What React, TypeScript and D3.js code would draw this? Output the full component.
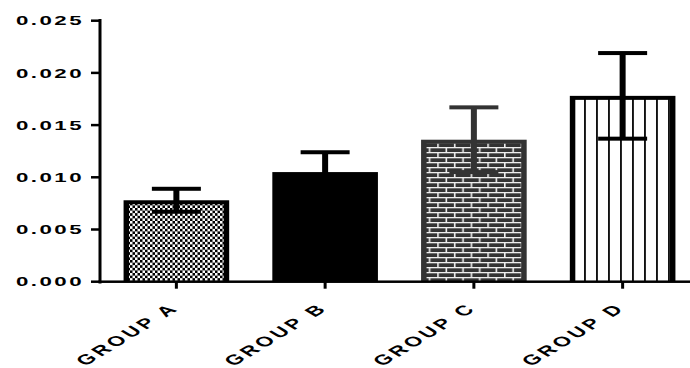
import React from "react";
import * as d3 from "d3";

const categories = ["GROUP A", "GROUP B", "GROUP C", "GROUP D"];
const means = [0.0078, 0.0105, 0.0136, 0.0178];
const errors = [0.0011, 0.0019, 0.0031, 0.0041];
const yTicks = [0, 0.005, 0.01, 0.015, 0.02, 0.025];
const fills = ["url(#checker)", "#000", "url(#brick)", "url(#stripes)"];
const outlines = ["#000", "#000", "#333", "#000"];

const W = 690;
const H = 368;
const SX = 1.65;
const FONT = "'Liberation Sans', Arial, sans-serif";

export default function App() {
  const y = d3.scaleLinear().domain([0, 0.025]).range([281.7, 20.7]);
  const x = d3.scaleBand<string>().domain(categories).range([102, 697]).paddingInner(0.29).paddingOuter(0.145);
  const bw = x.bandwidth();
  const fmt = d3.format(".3f");
  const side = 5.5;
  const topB = 4;
  const capW = 49;

  return (
    <svg width={W} height={H} style={{ position: "absolute", left: 0, top: 0, background: "#fff" }}>
      <defs>
        <pattern id="checker" patternUnits="userSpaceOnUse" width={5} height={5.2}>
          <rect width={5} height={5.2} fill="#fff" />
          <rect x={0} y={0} width={2.5} height={2.6} fill="#000" />
          <rect x={2.5} y={2.6} width={2.5} height={2.6} fill="#000" />
        </pattern>
        <pattern id="brick" patternUnits="userSpaceOnUse" width={16.7} height={10} x={3} y={2}>
          <rect width={16.7} height={10} fill="#333" />
          <rect x={0} y={0} width={16.7} height={1.3} fill="#eee" />
          <rect x={0} y={5} width={16.7} height={1.3} fill="#eee" />
          <rect x={0} y={0} width={1.6} height={5} fill="#eee" />
          <rect x={8.35} y={5} width={1.6} height={5} fill="#eee" />
        </pattern>
        <pattern id="stripes" patternUnits="userSpaceOnUse" width={12} height={10} x={8}>
          <rect width={12} height={10} fill="#fff" />
          <rect x={0} y={0} width={1.9} height={10} fill="#111" />
        </pattern>
      </defs>

      {categories.map((c, i) => {
        const x0 = x(c)!;
        const yt = y(means[i]);
        const y0 = y(0);
        const cx = x0 + bw / 2;
        const ySt = y(means[i] + errors[i]);
        const yLo = y(means[i] - errors[i]);
        const col = outlines[i];
        return (
          <g key={c}>
            <rect x={x0} y={yt} width={bw} height={y0 - yt} fill={col} />
            <rect x={x0 + side} y={yt + topB} width={bw - 2 * side} height={y0 - yt - topB} fill={fills[i]} />
            <rect x={cx - 3} y={ySt} width={6} height={yLo - ySt} fill={col} />
            <rect x={cx - capW / 2} y={ySt - 2} width={capW} height={4} fill={col} />
            <rect x={cx - capW / 2} y={yLo - 2} width={capW} height={4} fill={col} />
          </g>
        );
      })}

      {/* y axis */}
      <rect x={98.5} y={19} width={3} height={264.5} fill="#000" />
      {yTicks.map((t) => (
        <g key={t}>
          <rect x={91} y={y(t) - 1.25} width={9} height={2.5} fill="#000" />
          <text
            transform={`translate(84,${y(t)}) scale(${SX},1)`}
            textAnchor="end"
            dominantBaseline="central"
            fontFamily={FONT}
            fontWeight="bold"
            fontSize={13.5}
            letterSpacing={1.5}
            fill="#000"
          >
            {fmt(t)}
          </text>
        </g>
      ))}

      {/* x axis */}
      <rect x={98.5} y={y(0) - 1.25} width={W - 98.5} height={2.5} fill="#000" />
      {categories.map((c) => {
        const cx = x(c)! + bw / 2;
        return (
          <g key={c}>
            <rect x={cx - 1.5} y={y(0)} width={3} height={7} fill="#000" />
            <text
              transform={`translate(${cx + 4},${309}) scale(${SX},1) rotate(-45)`}
              textAnchor="end"
              fontFamily={FONT}
              fontWeight="bold"
              fontSize={14}
              letterSpacing={2.4}
              fill="#000"
            >
              {c}
            </text>
          </g>
        );
      })}
    </svg>
  );
}
